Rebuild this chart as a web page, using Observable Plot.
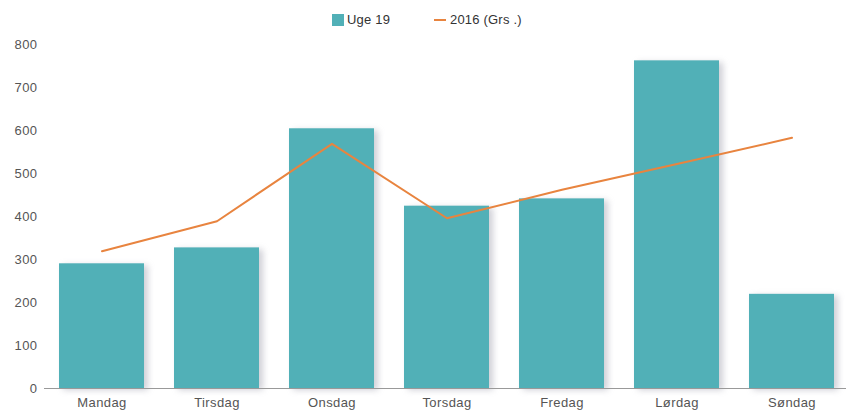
<!DOCTYPE html>
<html>
<head>
<meta charset="utf-8">
<script src="https://cdn.jsdelivr.net/npm/d3@7"></script>
<script src="https://cdn.jsdelivr.net/npm/@observablehq/plot@0.6"></script>
<style>
  body { margin: 0; background: #fff; font-family: "Liberation Sans", Arial, sans-serif; }
  #legend { height: 36px; position: relative; font-size: 13px; color: #333; letter-spacing: 0.2px; }
  .item { position: absolute; top: 13px; display: flex; align-items: center; line-height: 14px; }
  .sq { width: 12px; height: 12px; margin-right: 3px; }
  .ln { width: 12px; height: 2px; margin-right: 4px; }
</style>
</head>
<body>
<div id="legend"></div>
<div id="chart"></div>
<script>
const days = ["Mandag", "Tirsdag", "Onsdag", "Torsdag", "Fredag", "Lørdag", "Søndag"];
const uge19 = [290, 327, 604, 424, 441, 762, 219];
const gns2016 = [319, 389, 569, 396, 462, 522, 583];
const yTicks = [0, 100, 200, 300, 400, 500, 600, 700, 800];
const seriesNames = ["Uge 19", "2016 (Grs .)"];
const barColor = "#51b0b7";
const lineColor = "#e8843f";

const legend = document.getElementById("legend");
legend.innerHTML = `
  <div class="item" style="left:332px"><div class="sq" style="background:${barColor}"></div>${seriesNames[0]}</div>
  <div class="item" style="left:434px"><div class="ln" style="background:${lineColor}"></div>${seriesNames[1]}</div>`;

const data = days.map((d, i) => ({day: d, bar: uge19[i], line: gns2016[i]}));

const plot = Plot.plot({
  width: 846,
  height: 376,
  marginTop: 8,
  marginBottom: 24,
  marginLeft: 44,
  marginRight: -3,
  style: {fontFamily: "Liberation Sans, Arial, sans-serif", fontSize: "13px", color: "#555", letterSpacing: "0.4px", overflow: "hidden"},
  x: {domain: days, paddingInner: 0.26, paddingOuter: 0.11, label: null, tickSize: 0, tickPadding: 9},
  y: {domain: [0, 800], ticks: yTicks, label: null, tickSize: 0, tickPadding: 7, grid: false},
  marks: [
    Plot.gridY(yTicks, {stroke: "#dcdcdc", strokeOpacity: 1, x1: 40, x2: 846}),
    Plot.barY(data, {x: "day", y: "bar", fill: barColor}),
    Plot.line(data, {x: "day", y: "line", stroke: lineColor, strokeWidth: 2, curve: "linear"}),
    Plot.ruleX([0], {frameAnchor: "left", stroke: "#999"}),
    Plot.ruleY([0], {stroke: "#999"})
  ]
});
document.getElementById("chart").appendChild(plot);

// soft shadow on bars
const bars = plot.querySelector('g[aria-label="bar"]');
if (bars) bars.style.filter = "drop-shadow(4px 2px 3px rgba(120,120,140,0.35))";
</script>
</body>
</html>
